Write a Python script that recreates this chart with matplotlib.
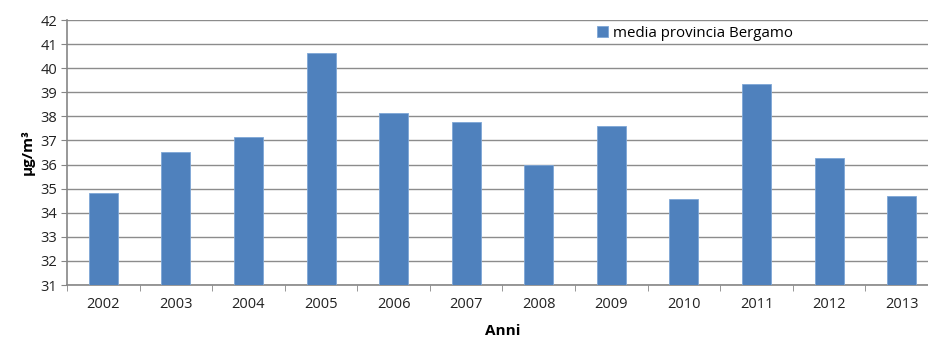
import numpy as np
import matplotlib
matplotlib.use("Agg")
import matplotlib.pyplot as plt

# media provincia Bergamo (ug/m3)
anni = ['2002', '2003', '2004', '2005', '2006', '2007',
        '2008', '2009', '2010', '2011', '2012', '2013']
media_bg = [34.83, 36.53, 37.15, 40.65, 38.12, 37.75,
            35.98, 37.61, 34.56, 39.34, 36.26, 34.69]
y_ticks = list(range(31, 43))

plt.rcParams['font.family'] = ['Open Sans', 'DejaVu Sans']

fig = plt.figure(figsize=(9.29, 3.40), dpi=100)
ax = fig.add_axes([67/929, 1-285/340, (938-67)/929, (285-20)/340])

x = np.arange(len(anni))
ax.bar(x, media_bg, width=0.4, color='#4F81BD', edgecolor='#7EA6D6',
       linewidth=0.6, label='media provincia Bergamo', zorder=3)

ax.set_xlim(-0.5, len(anni)-0.5)
ax.set_ylim(31, 42)
ax.set_yticks(y_ticks)
ax.set_yticklabels([str(v) for v in y_ticks], fontsize=10.5, color='#222222')
ax.set_xticks(x)
ax.set_xticklabels(anni, fontsize=10.5, color='#222222')
ax.set_xticks(np.arange(len(anni)+1)-0.5, minor=True)
ax.tick_params(axis='x', which='major', length=0, pad=9)
ax.tick_params(axis='x', which='minor', length=4, color='#868686')
ax.tick_params(axis='y', length=4, color='#868686', pad=3)

ax.grid(axis='y', color='#8c8c8c', linewidth=1.0, zorder=0)
for s in ['top', 'right']:
    ax.spines[s].set_visible(False)
for s in ['left', 'bottom']:
    ax.spines[s].set_color('#868686')
    ax.spines[s].set_linewidth(1.2)

ax.set_ylabel('µg/m³', fontsize=11, fontweight='bold', labelpad=4)
ax.set_xlabel('Anni', fontsize=11, fontweight='bold', labelpad=8)

ax.legend(loc='upper left', bbox_to_anchor=((597-67)/871, 1-(26-20)/265),
          frameon=False, fontsize=10.8, handlelength=0.75, handleheight=0.75,
          handletextpad=0.35, borderaxespad=0, borderpad=0)

fig.savefig('out.png', dpi=100)
